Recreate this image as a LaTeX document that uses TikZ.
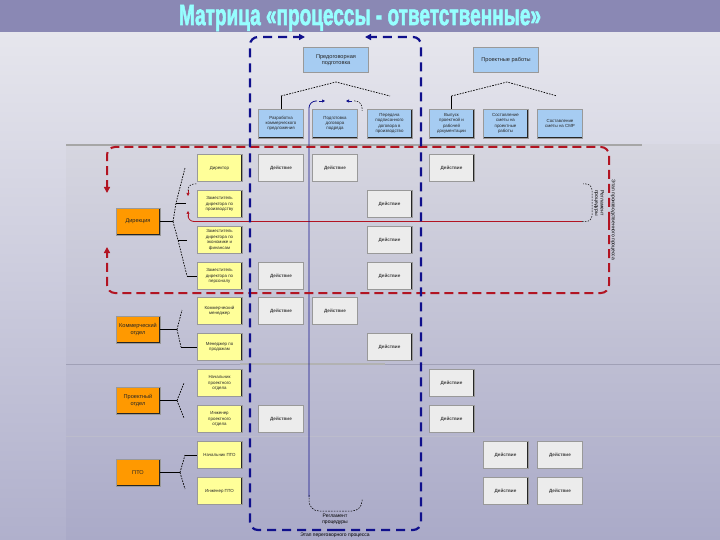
\documentclass[tikz,border=0pt]{standalone}
\usepackage{fontspec}
\setmainfont{Liberation Sans}
\newfontfamily\titlefont{Liberation Sans Bold}[FakeBold=2.5]
\usetikzlibrary{arrows.meta}
\definecolor{bar}{RGB}{138,136,180}
\definecolor{titlec}{RGB}{150,255,255}
\definecolor{bgtop}{RGB}{230,230,237}
\definecolor{bgbot}{RGB}{176,176,204}
\definecolor{pantop}{RGB}{214,214,224}
\definecolor{panbot}{RGB}{170,170,200}
\definecolor{sepc}{RGB}{160,160,182}
\definecolor{navy}{RGB}{16,16,140}
\definecolor{dred}{RGB}{178,20,34}
\definecolor{hdr}{RGB}{166,204,242}
\definecolor{orng}{RGB}{255,153,0}
\definecolor{ylw}{RGB}{255,255,153}
\definecolor{act}{RGB}{236,236,236}
\tikzset{
  cell/.style={minimum width=45pt, minimum height=27pt, inner sep=0.5pt, align=center,
    draw=black!40, line width=0.4pt, text=black!85,
    path picture={\draw[black!85,line width=1.5pt] (path picture bounding box.north east) -- (path picture bounding box.south east) -- (path picture bounding box.south west);}},
  tophdr/.style={cell, fill=hdr, minimum width=65pt, minimum height=25pt, font=\fontsize{5.6}{6.6}\selectfont},
  procbox/.style={cell, fill=hdr, minimum height=29pt, font=\fontsize{4.4}{5.2}\selectfont},
  rolebox/.style={cell, fill=ylw, font=\fontsize{4.4}{5.6}\selectfont},
  deptbox/.style={cell, fill=orng, minimum width=44pt, font=\fontsize{5.6}{6.8}\selectfont},
  actbox/.style={cell, fill=act, font=\fontsize{4.6}{5}\selectfont\bfseries, text=black!75},
  tline/.style={black, line width=0.8pt},
  tdot/.style={black, line width=0.7pt, dash pattern=on 1.6pt off 1.2pt},
  bluedash/.style={navy, line width=2.2pt, dash pattern=on 9pt off 6pt, rounded corners=8pt, -{Triangle[length=6pt,width=6pt]}},
  reddash/.style={dred, line width=2pt, dash pattern=on 9pt off 5pt, rounded corners=8pt, -{Triangle[length=6pt,width=6pt]}},
  smallnote/.style={font=\fontsize{5}{5.6}\selectfont, align=center, inner sep=0.5pt}
}
\begin{document}
\begin{tikzpicture}[x=1pt,y=-1pt]
\useasboundingbox (0,0) rectangle (720,540);
% background
\shade[top color=bgtop, bottom color=bgbot] (0,32) rectangle (720,540);
\shade[top color=pantop, bottom color=panbot] (66,145) rectangle (720,540);
\fill[bar] (0,0) rectangle (720,32);
\draw[black!35, line width=2.5pt] (66,145) -- (642,145);
\draw[sepc, line width=0.8pt] (66,364) -- (720,364);
\draw[black!30, line width=2.5pt] (240,364) -- (385,364);
\draw[sepc!70, line width=0.6pt] (66,436) -- (720,436);
% title
\node[text=titlec, anchor=base, inner sep=0pt] (title) at (360,25) {\resizebox{362pt}{20pt}{\titlefont Матрица «процессы - ответственные»}};

% headers
\node[tophdr] (h1) at (336,60) {Предоговорная\\подготовка};
\node[tophdr] (h2) at (506,60) {Проектные работы};
\node[procbox] (p1) at (281,123.5) {Разработка\\коммерческого\\предложения};
\node[procbox] (p2) at (335,123.5) {Подготовка\\договора\\подряда};
\node[procbox] (p3) at (389.5,123.5) {Передача\\подписанного\\договора в\\производство};
\node[procbox] (p4) at (451.5,123.5) {Выпуск\\проектной и\\рабочей\\документации};
\node[procbox] (p5) at (505.5,123.5) {Составление\\сметы на\\проектные\\работы};
\node[procbox] (p6) at (560,123.5) {Составление\\сметы на СМР};
\coordinate (t1) at (336,82); \coordinate (t1l) at (281,96); \coordinate (t1r) at (390,96);
\coordinate (t2) at (507,82); \coordinate (t2l) at (451.5,96); \coordinate (t2r) at (557,96);
\draw[tdot] (t1l) -- (t1) -- (t1r);
\draw[tdot] (t2l) -- (t2) -- (t2r);
\draw[tline] (t1l) -- (p1.north);
\draw[tline] (t2l) -- (p4.north);

% departments
\node[deptbox] (d1) at (138,221.5) {Дирекция};
\node[deptbox] (d2) at (138,329.5) {Коммерческий\\отдел};
\node[deptbox] (d3) at (138,400.5) {Проектный\\отдел};
\node[deptbox] (d4) at (138,472.5) {ПТО};
% roles
\node[rolebox] (r1) at (219.5,168) {Директор};
\node[rolebox] (r2) at (219.5,204) {Заместитель\\директора по\\производству};
\node[rolebox] (r3) at (219.5,240) {Заместитель\\директора по\\экономике и\\финансам};
\node[rolebox] (r4) at (219.5,276) {Заместитель\\директора по\\персоналу};
\node[rolebox] (r5) at (219.5,311) {Коммерческий\\менеджер};
\node[rolebox] (r6) at (219.5,347) {Менеджер по\\продажам};
\node[rolebox] (r7) at (219.5,383) {Начальник\\проектного\\отдела};
\node[rolebox] (r8) at (219.5,419) {Инженер\\проектного\\отдела};
\node[rolebox] (r9) at (219.5,455) {Начальник ПТО};
\node[rolebox] (r10) at (219.5,491) {Инженер ПТО};
% org tree
\coordinate (j1) at (173,221.5); \coordinate (j1a) at (176,203); \coordinate (j1ae) at (186,203);
\coordinate (j1t) at (185,168); \coordinate (j1b) at (178,240); \coordinate (j1be) at (187,240);
\coordinate (j1e) at (187,276);
\draw[tline] (d1.east) -- (j1);
\draw[tdot] (j1) -- (j1a) -- (j1t);
\draw[tdot] (j1) -- (j1b) -- (j1e);
\draw[tline] (j1a) -- (j1ae);
\draw[tline] (j1b) -- (j1be);
\draw[tline] (j1e) -- (r4.west);
\coordinate (j2) at (177,329.5); \coordinate (j2t) at (182,310); \coordinate (j2b) at (181,347);
\draw[tline] (d2.east) -- (j2);
\draw[tdot] (j2) -- (j2t);
\draw[tdot] (j2) -- (j2b);
\draw[tline] (j2b) -- (r6.west);
\coordinate (j3) at (177,400.5); \coordinate (j3t) at (184,383); \coordinate (j3b) at (184,418);
\draw[tline] (d3.east) -- (j3);
\draw[tdot] (j3) -- (j3t);
\draw[tdot] (j3) -- (j3b);
\coordinate (j4) at (180,472.5); \coordinate (j4t) at (185,455); \coordinate (j4b) at (185,489);
\draw[tline] (d4.east) -- (j4);
\draw[tdot] (j4) -- (j4t);
\draw[tdot] (j4) -- (j4b);
\draw[tline] (j4t) -- (r9.west);

% actions
\foreach \nm/\x/\y in {a1/281/168, a2/335/168, a3/451.5/168,
  a4/389.5/204, a5/389.5/240, a6/281/276, a7/389.5/276,
  a8/281/311, a9/335/311, a10/389.5/347,
  a11/451.5/383, a12/281/419, a13/451.5/419,
  a14/505.5/455, a15/560/455, a16/505.5/491, a17/560/491}
  \node[actbox] (\nm) at (\x,\y) {Действие};

% red inner loop
\draw[dred, line width=0.8pt, rounded corners=6pt] (582,221.5) -- (188,221.5) -- (188,216);
\draw[dred, line width=0.6pt, -{Triangle[length=3pt,width=3pt]}] (188,217) -- (188,211);
\draw[dred, line width=0.6pt, -{Triangle[length=3pt,width=3pt]}] (188,190) -- (188,196);
\draw[tdot, line width=0.5pt, rounded corners=6pt] (188,191) -- (188,184) -- (197,184);
\draw[tdot, line width=0.5pt, rounded corners=6pt] (582,221.5) -- (592,221.5) -- (592,184) -- (583,184);
\node[smallnote, rotate=-90] (rnote) at (599,203) {Регламент\\процедуры};
% blue inner loop
\draw[navy, line width=0.8pt, rounded corners=7pt] (309,497) -- (309,101) -- (317,101);
\draw[navy, line width=0.6pt, -{Triangle[length=3pt,width=3pt]}] (319,101) -- (325,101);
\draw[navy, line width=0.6pt, -{Triangle[length=3pt,width=3pt]}] (352,101) -- (346,101);
\draw[tdot, line width=0.5pt, rounded corners=7pt] (354,101) -- (362,101) -- (362,111);
\draw[tdot, line width=0.5pt, rounded corners=10pt] (309,495) -- (309,511) -- (362,511) -- (362,499);
\node[smallnote] (bnote) at (335,519) {Регламент\\процедуры};

% outer loops
\draw[reddash] (609,221) -- (609,147) -- (107,147) -- (107,193);
\draw[reddash] (609,221) -- (609,293) -- (107,293) -- (107,247);
\draw[bluedash] (336,530) -- (250,530) -- (250,37) -- (305,37);
\draw[bluedash] (336,530) -- (421,530) -- (421,37) -- (365,37);
\node[smallnote, rotate=-90] (rnote2) at (613,220) {Этап производственного процесса};
\node[smallnote] (bnote2) at (335,535) {Этап переговорного процесса};
\end{tikzpicture}
\end{document}
